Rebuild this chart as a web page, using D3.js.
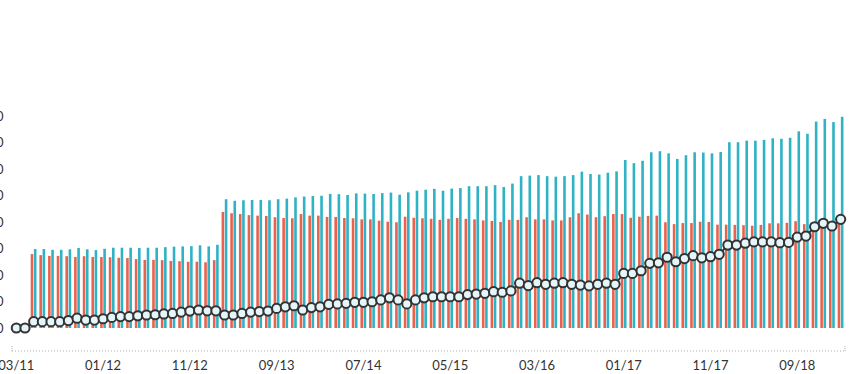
<!DOCTYPE html>
<html>
<head>
<meta charset="utf-8">
<script src="https://cdnjs.cloudflare.com/ajax/libs/d3/7.8.5/d3.min.js"></script>
<style>
  body { margin: 0; background: #fff; }
  .chart text { font-family: Lato, "Open Sans", sans-serif; font-size: 13px; fill: #333; }
</style>
</head>
<body>
<div class="chart"></div>
<script>
// Monthly categories 03/11 .. 02/19
var months = d3.timeMonth.range(new Date(2011, 2, 1), new Date(2019, 2, 1));

// Tick labels shown on the x axis
var xTickLabels = ["03/11", "01/12", "11/12", "09/13", "07/14", "05/15", "03/16", "01/17", "11/17", "09/18"];
var yTickValues = [0, 100, 200, 300, 400, 500, 600, 700, 800];

// Series values
var redValues = [0, 0, 279, 275, 272, 272, 271, 268, 271, 268,
  268, 267, 265, 264, 260, 257, 257, 256, 253, 252,
  250, 250, 248, 256, 438, 433, 430, 426, 424, 423,
  418, 415, 414, 430, 424, 424, 419, 419, 415, 414,
  410, 410, 405, 401, 399, 420, 416, 414, 412, 408,
  412, 415, 412, 410, 406, 404, 400, 408, 408, 418,
  410, 410, 406, 406, 418, 433, 428, 418, 422, 430,
  430, 416, 420, 423, 424, 399, 392, 396, 396, 401,
  400, 390, 390, 389, 388, 386, 389, 395, 395, 397,
  403, 392, 400, 401, 396, 396];

var tealValues = [0, 0, 298, 298, 295, 295, 297, 302, 297, 294,
  299, 303, 303, 303, 302, 303, 303, 305, 307, 308,
  309, 312, 308, 314, 486, 480, 482, 483, 483, 482,
  486, 488, 493, 496, 498, 499, 506, 505, 502, 508,
  507, 506, 509, 511, 503, 512, 518, 522, 525, 518,
  526, 528, 535, 535, 535, 539, 532, 545, 573, 575,
  577, 573, 571, 573, 577, 590, 581, 579, 586, 591,
  634, 622, 631, 663, 667, 659, 638, 652, 663, 662,
  659, 664, 701, 701, 707, 707, 710, 716, 714, 718,
  742, 733, 779, 789, 777, 797];

var lineValues = [0, 0, 24, 24, 24, 24, 28, 37, 30, 30,
  35, 40, 43, 43, 46, 49, 50, 53, 55, 60,
  64, 68, 65, 65, 49, 49, 55, 60, 62, 64,
  74, 80, 84, 68, 77, 80, 89, 91, 93, 97,
  97, 99, 106, 114, 106, 91, 106, 114, 118, 118,
  118, 118, 126, 128, 131, 137, 135, 140, 169, 160,
  171, 165, 169, 171, 165, 162, 159, 165, 169, 165,
  206, 206, 216, 244, 246, 267, 250, 262, 273, 265,
  269, 278, 313, 313, 320, 325, 325, 325, 322, 323,
  343, 347, 382, 395, 385, 410];

var svgWidth = 860;
var svgHeight = 374;

var svg = d3.select(".chart")
  .append("svg")
  .attr("width", svgWidth)
  .attr("height", svgHeight);

var fmt = d3.timeFormat("%m/%y");

var data = months.map(function(m, i) {
  return { month: m, key: fmt(m), red: redValues[i], teal: tealValues[i], line: lineValues[i] };
});

// Scales
var xScale = d3.scaleBand()
  .domain(data.map(d => d.key))
  .range([12, 845])
  .paddingInner(0);

var yScale = d3.scaleLinear()
  .domain([0, 800])
  .range([328, 116]);

var step = xScale.bandwidth();
var center = d => xScale(d.key) + step / 2;

// Y axis labels (mostly outside the view on the left)
svg.append("g")
  .selectAll("text")
  .data(yTickValues)
  .enter()
  .append("text")
  .attr("x", 3.5)
  .attr("y", d => yScale(d))
  .attr("dy", "0.35em")
  .attr("text-anchor", "end")
  .text(d => d);

// Bars
var barW = 2.6;
svg.append("g")
  .selectAll("rect")
  .data(data.filter(d => d.red > 0))
  .enter()
  .append("rect")
  .attr("x", d => center(d) - barW - 0.4)
  .attr("y", d => yScale(d.red))
  .attr("width", barW)
  .attr("height", d => yScale(0) - yScale(d.red))
  .attr("fill", "#e8634e");

svg.append("g")
  .selectAll("rect")
  .data(data.filter(d => d.teal > 0))
  .enter()
  .append("rect")
  .attr("x", d => center(d) + 0.2)
  .attr("y", d => yScale(d.teal))
  .attr("width", barW)
  .attr("height", d => yScale(0) - yScale(d.teal))
  .attr("fill", "#2fb2c4");

// Line with circles
var line = d3.line()
  .x(d => center(d))
  .y(d => yScale(d.line));

svg.append("path")
  .datum(data)
  .attr("d", line)
  .attr("fill", "none")
  .attr("stroke", "#333")
  .attr("stroke-width", 2);

svg.append("g")
  .selectAll("circle")
  .data(data)
  .enter()
  .append("circle")
  .attr("cx", d => center(d))
  .attr("cy", d => yScale(d.line))
  .attr("r", 4.6)
  .attr("fill", "#e5f6fa")
  .attr("stroke", "#333")
  .attr("stroke-width", 2);

// X axis: dotted line with end ticks
var axisY = 351;
var xAxisG = svg.append("g");
xAxisG.append("line")
  .attr("x1", 12).attr("x2", 845)
  .attr("y1", axisY).attr("y2", axisY)
  .attr("stroke", "#aaa")
  .attr("stroke-dasharray", "1,2");
[12, 845].forEach(function(x) {
  xAxisG.append("line")
    .attr("x1", x).attr("x2", x)
    .attr("y1", axisY - 5).attr("y2", axisY)
    .attr("stroke", "#aaa")
    .attr("stroke-dasharray", "1,1");
});

xAxisG.selectAll("text")
  .data(xTickLabels)
  .enter()
  .append("text")
  .attr("x", d => xScale(d) + step / 2)
  .attr("y", 370)
  .attr("text-anchor", "middle")
  .text(d => d);
</script>
</body>
</html>
